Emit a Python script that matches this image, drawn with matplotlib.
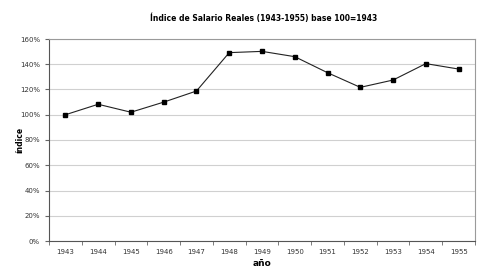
import matplotlib.pyplot as plt
from matplotlib.ticker import FuncFormatter

years = ['1943', '1944', '1945', '1946', '1947', '1948', '1949',
         '1950', '1951', '1952', '1953', '1954', '1955']
indice = [100, 108.3, 102, 110, 118.8, 149.2, 150.2,
          146, 133.3, 121.7, 127.5, 140.5, 136.2]

fig = plt.figure(figsize=(4.9, 2.78), dpi=100)
ax = fig.add_axes([49 / 490, 1 - 241 / 278, 426 / 490, 202 / 278])

x = list(range(len(years)))
ax.plot(x, indice, color='#222222', lw=0.8, marker='s', ms=3,
        markerfacecolor='black', markeredgecolor='black', zorder=3)

ax.set_xlim(-0.5, len(years) - 0.5)
ax.set_ylim(0, 160)
ax.set_yticks(range(0, 161, 20))
ax.yaxis.set_major_formatter(FuncFormatter(lambda v, p: f'{int(v)}%'))
ax.set_xticks(x)
ax.set_xticklabels(years)
ax.set_xticks([i - 0.5 for i in range(len(years) + 1)], minor=True)
ax.tick_params(axis='x', which='major', length=0, labelsize=5, pad=6, colors='#333333')
ax.tick_params(axis='x', which='minor', length=3, color='#666666')
ax.tick_params(axis='y', labelsize=5, length=3, color='#666666', labelcolor='#333333')

ax.grid(axis='y', color='#d0d0d0', lw=0.8)
ax.set_axisbelow(True)
for side in ['top', 'right']:
    ax.spines[side].set_color('#9a9a9a')
for side in ['left', 'bottom']:
    ax.spines[side].set_color('#555555')

fig.text(264 / 490, 1 - 18 / 278, 'Índice de Salario Reales (1943-1955) base 100=1943',
         ha='center', va='center', fontsize=5.5, fontweight='bold')
fig.text(262 / 490, 1 - 264 / 278, 'año', ha='center', va='center',
         fontsize=6.5, fontweight='bold')
fig.text(20 / 490, 1 - 140 / 278, 'índice', ha='center', va='center',
         rotation=90, fontsize=5.5, fontweight='bold')

fig.savefig('out.png', dpi=100)
